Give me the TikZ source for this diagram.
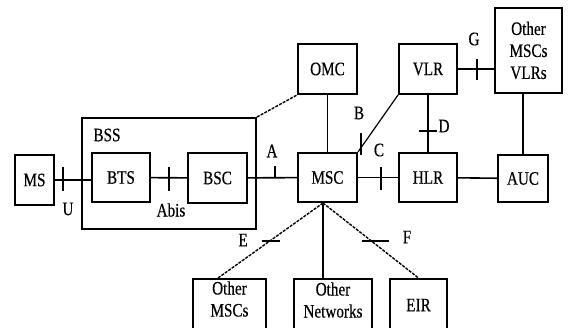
\documentclass[tikz,border=0pt]{standalone}
\usepackage{fontspec}
\setmainfont{Liberation Serif}[FakeStretch=0.8, FakeBold=0.4]
\usetikzlibrary{positioning}

\begin{document}
\begin{tikzpicture}[x=0.5pt, y=-0.5pt,
  every node/.style={font=\fontsize{9.5}{11}\selectfont},
  box/.style={draw, line width=1pt, inner sep=0pt},
  link/.style={line width=0.8pt},
  dlink/.style={line width=0.7pt, dash pattern=on 1.5pt off 0.6pt},
  tick/.style={line width=0.8pt},
  lbl/.style={inner sep=0pt}]
  \useasboundingbox (0,0) rectangle (571,327);
  \clip (0,0) rectangle (571,327);
  % base station side
  \node[box, minimum width=19.5pt, minimum height=25pt] (ms) at (34.5,180) {MS};
  \node[box, minimum width=87pt, minimum height=55.5pt] (bss) at (169,173.5) {};
  \node[lbl] (bsslbl) at (107,135) {BSS};
  \node[box, minimum width=29pt, minimum height=24.5pt] (bts) at (121,177.5) {BTS};
  \node[box, minimum width=29.5pt, minimum height=25pt] (bsc) at (217.5,178) {BSC};
  % switching side
  \node[box, minimum width=29.5pt, minimum height=24.5pt] (msc) at (327.5,177.5) {MSC};
  \node[box, minimum width=29.5pt, minimum height=25pt] (omc) at (327.5,69) {OMC};
  \node[box, minimum width=29pt, minimum height=25pt] (vlr) at (428,69) {VLR};
  \node[box, minimum width=29pt, minimum height=24.5pt] (hlr) at (428,177.5) {HLR};
  \node[box, minimum width=25pt, minimum height=23.5pt] (auc) at (523,178.5) {AUC};
  \node[box, align=center, minimum width=33.5pt, minimum height=42.5pt] (ovlr) at (528.5,50.5) {Other\\MSCs\\VLRs};
  % boxes cut by the lower edge
  \node[box, anchor=north, minimum width=36.5pt, minimum height=30pt] (omsc) at (229.5,278) {};
  \node[box, anchor=north, minimum width=39pt, minimum height=30pt] (onet) at (333,278) {};
  \node[box, anchor=north, minimum width=28.5pt, minimum height=30pt] (eir) at (418.5,278) {};
  \node[lbl, align=center] (omsctxt) at (229.5,299) {Other\\MSCs};
  \node[lbl, align=center] (onettxt) at (333,300) {Other\\Networks};
  \node[lbl] (eirtxt) at (418.5,305) {EIR};
  \coordinate (fan) at (323,203);

  % connectors
  \draw[link] (ms.east) -- (ms.east -| bts.west);
  \draw[link] (bts) -- (bsc);
  \draw[link] (bsc) -- (msc);
  \draw[link] (msc) -- (hlr);
  \draw[link] (hlr) -- (auc);
  \draw[link] (omc) -- (msc);
  \draw[link] (vlr) -- (hlr);
  \draw[link] (vlr.east) -- (vlr.east -| ovlr.west);
  \draw[link] (auc.north) -- (auc.north |- ovlr.south);
  \draw[line width=0.6pt] (msc.north east) -- (vlr.south west);
  \draw[dlink] (bss.north east) -- (omc.south west);
  \draw[link] (fan) -- (fan |- onet.north);
  \draw[dlink] (fan) -- ([xshift=-5.75pt]omsc.north);
  \draw[dlink] (fan) -- (eir.north);

  % interface marks and names
  \draw[tick] (63,167) -- (63,191);
  \draw[tick] (169,167) -- (169,191);
  \draw[tick] (275,166) -- (275,178);
  \draw[tick] (381,167) -- (381,190);
  \draw[tick] (361,133) -- (361,155);
  \draw[tick] (419,131) -- (437,131);
  \draw[tick] (477,59) -- (477,80);
  \draw[tick] (262,241) -- (280,241);
  \draw[tick] (362,241) -- (389,241);
  \node[lbl] (lu) at (68,209) {U};
  \node[lbl] (labis) at (171,210) {Abis};
  \node[lbl] (la) at (272,151) {A};
  \node[lbl] (lb) at (359,113) {B};
  \node[lbl] (lc) at (379,150) {C};
  \node[lbl] (ld) at (444,126) {D};
  \node[lbl] (le) at (243,240) {E};
  \node[lbl] (lf) at (407,237) {F};
  \node[lbl] (lg) at (474,39) {G};
\end{tikzpicture}
\end{document}
